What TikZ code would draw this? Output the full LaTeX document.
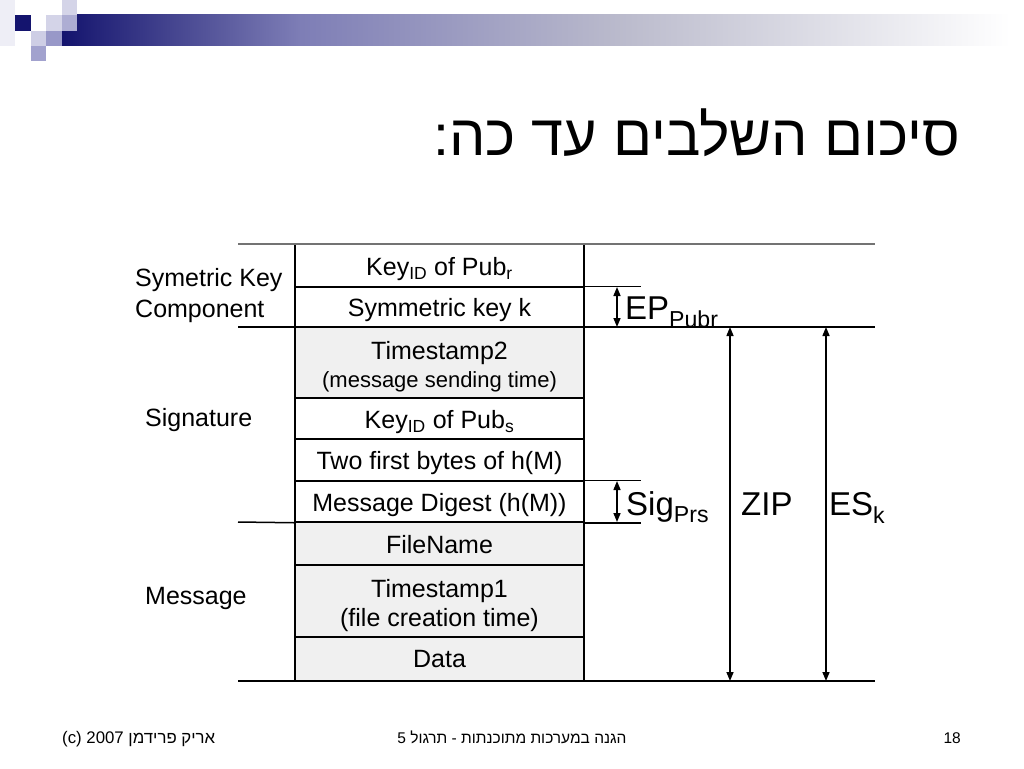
\documentclass[tikz,border=0pt]{standalone}
\usepackage{fontspec}
\setmainfont{Liberation Sans}
\newfontfamily\hebfont[Script=Hebrew]{Liberation Sans}
\TeXXeTstate=1
\usepackage{xcolor}
\usepackage{tikz}
\usetikzlibrary{arrows.meta, positioning, calc}
\definecolor{navy}{RGB}{20,20,110}
\definecolor{lavlight}{RGB}{212,212,232}
\definecolor{lavmid}{RGB}{152,152,200}
\definecolor{rowgray}{RGB}{240,240,240}
% row text, lowered a little inside its box
\newcommand\rowtxt[2][4pt]{\raisebox{-#1}[\height][\depth]{%
  \begin{tabular}{@{}c@{}}#2\end{tabular}}}
\tikzset{
  rowbox/.style={
    draw, line width=1.5pt, minimum width=289pt, inner sep=0pt,
    align=center, font=\fontsize{25}{29}\selectfont, fill=white
  },
  grayrow/.style={rowbox, fill=rowgray},
  sidelabel/.style={
    font=\fontsize{25}{31}\selectfont, align=left, inner sep=0pt, anchor=west
  },
  biglabel/.style={
    font=\fontsize{33}{36}\selectfont, inner sep=0pt, anchor=base west
  },
  rulex/.style={line width=1.5pt},
  spanarrow/.style={
    {Triangle[length=9pt,width=7pt]}-{Triangle[length=9pt,width=7pt]},
    line width=1.5pt
  },
  footnote/.style={font=\fontsize{15.5}{17}\selectfont, inner sep=0pt},
}

\begin{document}
\begin{tikzpicture}[x=1pt, y=-1pt]
  \useasboundingbox[fill=white] (0,0) rectangle (1024,768);

  % Corner squares and bar
  \fill[lavlight!40] (0,0) rectangle (15,46);
  \shade[left color=navy, right color=lavmid!80!navy] (62,15) rectangle (300,46);
  \shade[left color=lavmid!80!navy, right color=black!12!lavlight] (300,15) rectangle (620,46);
  \shade[left color=black!12!lavlight, right color=white] (620,15) rectangle (1010,46);
  \fill[lavlight] (62,0) rectangle (77,15);
  \fill[navy] (15,15) rectangle (31,31);
  \fill[lavlight] (46,15) rectangle (62,31);
  \fill[lavmid!80] (62,15) rectangle (77,31);
  \fill[lavlight!90!lavmid] (31,31) rectangle (46,46);
  \fill[lavmid] (46,31) rectangle (62,46);
  \fill[lavmid!90] (31,46) rectangle (46,61);

  % Title
  \node[font=\hebfont\fontsize{57.5}{64}\selectfont, inner sep=0pt, anchor=base east]
    (title) at (960,155) {\beginR סיכום השלבים עד כה:\endR};

  % Rows
  \node[rowbox, minimum height=43pt] (r1) at (439.5,265.5)
    {\rowtxt{Key\textsubscript{ID} of Pub\textsubscript{r}}};
  \node[rowbox, minimum height=40pt] (r2) at (439.5,307)
    {\rowtxt{Symmetric key k}};
  \node[grayrow, minimum height=71pt] (r3) at (439.5,362.5)
    {\rowtxt[5.5pt]{Timestamp2\\[-1pt] {\fontsize{22}{24}\selectfont (message sending time)}}};
  \node[rowbox, minimum height=41pt] (r4) at (439.5,418.5)
    {\rowtxt{Key\textsubscript{ID} of Pub\textsubscript{s}}};
  \node[rowbox, minimum height=42pt] (r5) at (439.5,460)
    {\rowtxt{Two first bytes of h(M)}};
  \node[rowbox, minimum height=41pt] (r6) at (439.5,501.5)
    {\rowtxt{Message Digest (h(M))}};
  \node[grayrow, minimum height=43pt] (r7) at (439.5,543.5)
    {\rowtxt{FileName}};
  \node[grayrow, minimum height=72pt] (r8) at (439.5,601)
    {\rowtxt[5.5pt]{Timestamp1\\ (file creation time)}};
  \node[grayrow, minimum height=44pt] (r9) at (439.5,659)
    {\rowtxt[3pt]{Data}};

  % Side labels
  \node[sidelabel] (symkey) at (135,296) {Symetric Key\\Component};
  \node[sidelabel] (sig) at (145,420) {Signature};
  \node[sidelabel] (msg) at (145,598) {Message};

  % Rules
  \draw[rulex, black!55] (238,244) -- (875,244);
  \draw[rulex] (238,327) -- (875,327);
  \draw[rulex] (238,522) -- (r6.south west);
  \draw[rulex] (238,681) -- (875,681);
  \draw[rulex] (r2.north east) -- ++(56,0);
  \draw[rulex] (r6.north east) -- ++(56,0);
  \draw[rulex] (r6.south east) -- ++(56,0);

  % Span arrows
  \coordinate (epTop) at (617,287);
  \coordinate (epBot) at (617,327);
  \coordinate (sigTop) at (617,481);
  \coordinate (sigBot) at (617,522);
  \coordinate (zipTop) at (730,327);
  \coordinate (zipBot) at (730,681);
  \coordinate (esTop) at (826,327);
  \coordinate (esBot) at (826,681);
  \draw[spanarrow] (epTop) -- (epBot);
  \draw[spanarrow] (sigTop) -- (sigBot);
  \draw[spanarrow] (zipTop) -- (zipBot);
  \draw[spanarrow] (esTop) -- (esBot);

  % Span labels
  \node[biglabel] (ep) at (625,319) {EP\textsubscript{Pubr}};
  \node[biglabel] (sigl) at (626,515) {Sig\textsubscript{Prs}};
  \node[biglabel] (zip) at (741,515) {ZIP};
  \node[biglabel] (es) at (829,515) {ES\textsubscript{k}};

  % Footer
  \node[footnote, anchor=base west, font=\fontsize{16.8}{19}\selectfont] (author) at (62,743)
    {(c) 2007 {\hebfont\beginR אריק פרידמן\endR}};
  \node[footnote, anchor=base] (course) at (512,743)
    {\hebfont\beginR הגנה במערכות מתוכנתות - תרגול 5\endR};
  \node[footnote, anchor=base east] (page) at (961,743) {18};
\end{tikzpicture}
\end{document}
